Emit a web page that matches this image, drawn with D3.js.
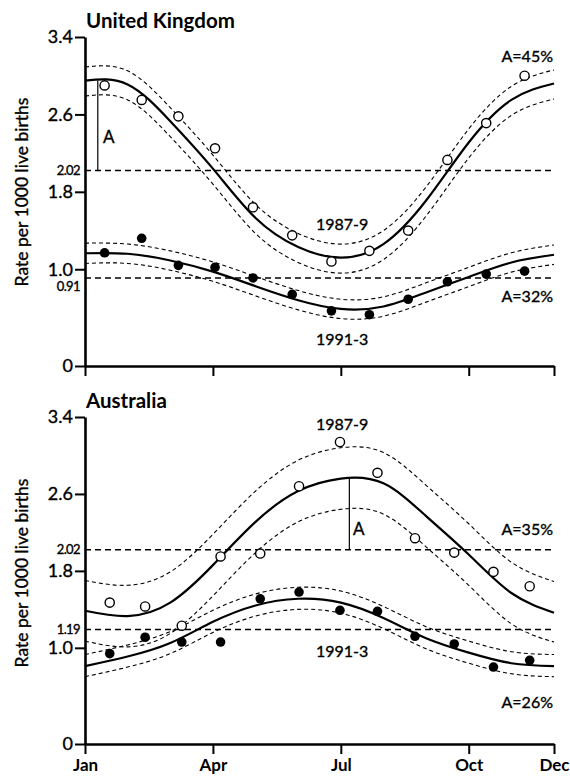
<!DOCTYPE html>
<html>
<head>
<meta charset="utf-8">
<script src="https://cdn.jsdelivr.net/npm/d3@7"></script>
<style>
body { margin: 0; background: #fff; }
text { font-family: Lato, "DejaVu Sans", sans-serif; fill: #000; }
.heavy { stroke: #000; stroke-width: 0.35; }
</style>
</head>
<body>
<script>
// Data

var w = 570;
var h = 776;

var monthTicks = [0, 3, 6, 9, 11];
var monthLabels = ["Jan", "Apr", "Jul", "Oct", "Dec"];
var rateTicks = [0, 1.0, 1.8, 2.6, 3.4];
var rateTickLabels = ["0", "1.0", "1.8", "2.6", "3.4"];

// month positions of the fitted curves (Jan = 0 ... Dec = 11)
var curveMonths = [0, 1, 2, 3, 4, 5, 6, 7, 8, 9, 10, 11];

// United Kingdom
var ukMonths = [0.46, 1.33, 2.19, 3.05, 3.94, 4.86, 5.78, 6.67, 7.58, 8.5, 9.41, 10.31];
var ukObs8789 = [2.9, 2.75, 2.58, 2.25, 1.64, 1.35, 1.08, 1.19, 1.4, 2.13, 2.51, 3.0];
var ukObs9193 = [1.17, 1.32, 1.04, 1.02, 0.91, 0.74, 0.57, 0.53, 0.69, 0.87, 0.95, 0.98];
var ukFit8789 = [2.95, 2.91, 2.53, 2.04, 1.53, 1.23, 1.12, 1.26, 1.71, 2.31, 2.75, 2.92];
var ukHigh8789 = [3.09, 3.05, 2.67, 2.18, 1.67, 1.37, 1.26, 1.4, 1.85, 2.45, 2.89, 3.06];
var ukLow8789 = [2.79, 2.75, 2.37, 1.88, 1.37, 1.07, 0.96, 1.1, 1.55, 2.15, 2.59, 2.76];
var ukFit9193 = [1.165, 1.16, 1.09, 0.975, 0.825, 0.68, 0.59, 0.615, 0.76, 0.92, 1.07, 1.15];
var ukHigh9193 = [1.27, 1.26, 1.19, 1.075, 0.925, 0.78, 0.69, 0.715, 0.86, 1.02, 1.17, 1.25];
var ukLow9193 = [1.06, 1.06, 0.99, 0.875, 0.725, 0.58, 0.49, 0.515, 0.66, 0.82, 0.97, 1.05];
var ukMeans = [2.02, 0.91];

// Australia
var auMonths = [0.58, 1.41, 2.27, 3.18, 4.11, 5.02, 5.98, 6.86, 7.74, 8.66, 9.58, 10.43];
var auObs8789 = [1.47, 1.43, 1.23, 1.95, 1.98, 2.68, 3.14, 2.82, 2.14, 1.99, 1.79, 1.64];
var auObs9193 = [0.94, 1.11, 1.06, 1.06, 1.51, 1.58, 1.39, 1.38, 1.12, 1.04, 0.8, 0.87];
var auFit8789 = [1.385, 1.33, 1.47, 1.86, 2.31, 2.63, 2.76, 2.71, 2.37, 1.97, 1.57, 1.365];
var auHigh8789 = [1.7, 1.65, 1.79, 2.18, 2.63, 2.95, 3.08, 3.03, 2.69, 2.29, 1.89, 1.69];
var auLow8789 = [1.07, 1.01, 1.15, 1.54, 1.99, 2.31, 2.44, 2.39, 2.05, 1.65, 1.25, 1.06];
var auFit9193 = [0.81, 0.91, 1.05, 1.27, 1.44, 1.51, 1.47, 1.31, 1.1, 0.95, 0.84, 0.81];
var auHigh9193 = [0.93, 1.03, 1.17, 1.39, 1.56, 1.63, 1.59, 1.43, 1.22, 1.07, 0.96, 0.93];
var auLow9193 = [0.7, 0.8, 0.94, 1.16, 1.33, 1.4, 1.36, 1.2, 0.99, 0.84, 0.73, 0.7];
var auMeans = [2.02, 1.19];

/*
-----SVG-----
*/
var svg = d3.select("body")
  .append("svg")
  .attr("width", w)
  .attr("height", h);

var x = d3.scaleLinear().domain([0, 11]).range([85, 554]);

var panels = [
  {
    title: "United Kingdom", top: 37, bottom: 366, titleY: 28, titleMid: 192,
    months: ukMonths, open: ukObs8789, closed: ukObs9193,
    fits: [ukFit8789, ukFit9193], highs: [ukHigh8789, ukHigh9193], lows: [ukLow8789, ukLow9193],
    means: ukMeans, meanDy: [0, 9],
    aMonth: 0.3, aTop: 2.95, aLabel: [103, 143],
    labels: [
      { t: "A=45%", x: 553, y: 62, anchor: "end" },
      { t: "1987-9", x: 316, y: 230, anchor: "start" },
      { t: "1991-3", x: 316, y: 345, anchor: "start" },
      { t: "A=32%", x: 553, y: 302, anchor: "end" }
    ],
    showMonths: false
  },
  {
    title: "Australia", top: 417, bottom: 744, titleY: 408, titleMid: 573,
    months: auMonths, open: auObs8789, closed: auObs9193,
    fits: [auFit8789, auFit9193], highs: [auHigh8789, auHigh9193], lows: [auLow8789, auLow9193],
    means: auMeans, meanDy: [0, 0],
    aMonth: 6.2, aTop: 2.76, aLabel: [353, 535],
    labels: [
      { t: "1987-9", x: 316, y: 430, anchor: "start" },
      { t: "A=35%", x: 553, y: 535, anchor: "end" },
      { t: "1991-3", x: 316, y: 657, anchor: "start" },
      { t: "A=26%", x: 553, y: 708, anchor: "end" }
    ],
    showMonths: true
  }
];

panels.forEach(function(p) {
  var y = d3.scaleLinear().domain([0, 3.4]).range([p.bottom, p.top]);
  var g = svg.append("g");

  var line = d3.line()
    .x(function(d) { return x(d[0]); })
    .y(function(d) { return y(d[1]); })
    .curve(d3.curveNatural);

  // mean levels
  g.selectAll(".mean")
    .data(p.means)
    .enter()
    .append("line")
    .attr("x1", x(0)).attr("x2", x(11))
    .attr("y1", function(d) { return y(d); })
    .attr("y2", function(d) { return y(d); })
    .attr("stroke", "#000")
    .attr("stroke-width", 1.4)
    .attr("stroke-dasharray", "6,4");

  g.selectAll(".meanlab")
    .data(p.means)
    .enter()
    .append("text")
    .attr("class", "heavy")
    .attr("x", 80)
    .attr("y", function(d, i) { return y(d) + p.meanDy[i]; })
    .attr("dy", "0.35em")
    .attr("text-anchor", "end")
    .attr("font-size", 13)
    .attr("letter-spacing", -0.6)
    .text(function(d) { return d.toFixed(2); });

  // confidence bands
  p.highs.concat(p.lows).forEach(function(s) {
    g.append("path")
      .datum(curveMonths.map(function(m, i) { return [m, s[i]]; }))
      .attr("d", line)
      .attr("fill", "none")
      .attr("stroke", "#000")
      .attr("stroke-width", 1.1)
      .attr("stroke-dasharray", "4,3");
  });

  // fitted curves
  p.fits.forEach(function(s) {
    g.append("path")
      .datum(curveMonths.map(function(m, i) { return [m, s[i]]; }))
      .attr("d", line)
      .attr("fill", "none")
      .attr("stroke", "#000")
      .attr("stroke-width", 2.2);
  });

  // amplitude marker
  g.append("line")
    .attr("x1", x(p.aMonth)).attr("x2", x(p.aMonth))
    .attr("y1", y(p.aTop)).attr("y2", y(p.means[0]))
    .attr("stroke", "#000")
    .attr("stroke-width", 1.2);
  g.append("text")
    .attr("class", "heavy")
    .attr("x", p.aLabel[0]).attr("y", p.aLabel[1])
    .attr("font-size", 17)
    .text("A");

  // observed points
  g.selectAll(".closed")
    .data(p.closed)
    .enter()
    .append("circle")
    .attr("cx", function(d, i) { return x(p.months[i]); })
    .attr("cy", function(d) { return y(d); })
    .attr("r", 4.8)
    .attr("fill", "#000");

  g.selectAll(".open")
    .data(p.open)
    .enter()
    .append("circle")
    .attr("cx", function(d, i) { return x(p.months[i]); })
    .attr("cy", function(d) { return y(d); })
    .attr("r", 4.6)
    .attr("fill", "#fff")
    .attr("stroke", "#000")
    .attr("stroke-width", 1.4);

  // axes
  var yAxis = g.append("g")
    .attr("transform", "translate(" + x(0) + ",0)")
    .call(d3.axisLeft(y).tickValues(rateTicks)
      .tickFormat(function(d, i) { return rateTickLabels[i]; })
      .tickSize(10).tickSizeOuter(0).tickPadding(2));
  yAxis.select(".domain").attr("stroke-width", 2.6);
  yAxis.selectAll(".tick line").attr("stroke-width", 2);
  yAxis.selectAll(".tick text")
    .attr("class", "heavy")
    .attr("font-family", "Lato, 'DejaVu Sans', sans-serif")
    .attr("font-size", 18)
    .attr("fill", "#000");

  var xAxis = g.append("g")
    .attr("transform", "translate(0," + p.bottom + ")")
    .call(d3.axisBottom(x).tickValues(monthTicks)
      .tickFormat(function(d, i) { return p.showMonths ? monthLabels[i] : ""; })
      .tickSize(10).tickSizeOuter(0).tickPadding(5));
  xAxis.select(".domain").attr("stroke-width", 2.6);
  xAxis.selectAll(".tick line").attr("stroke-width", 2);
  xAxis.selectAll(".tick text")
    .attr("font-family", "Lato, 'DejaVu Sans', sans-serif")
    .attr("font-size", 17)
    .attr("font-weight", "bold")
    .attr("fill", "#000");

  // y title
  g.append("text")
    .attr("class", "heavy")
    .attr("transform", "translate(28," + p.titleMid + ") rotate(-90)")
    .attr("text-anchor", "middle")
    .attr("font-size", 17.5)
    .text("Rate per 1000 live births");

  // panel title
  g.append("text")
    .attr("x", 86).attr("y", p.titleY)
    .attr("font-size", 20.5)
    .attr("font-weight", "bold")
    .text(p.title);

  g.selectAll(".lab")
    .data(p.labels)
    .enter()
    .append("text")
    .attr("class", "heavy")
    .attr("x", function(d) { return d.x; })
    .attr("y", function(d) { return d.y; })
    .attr("text-anchor", function(d) { return d.anchor; })
    .attr("font-size", 16)
    .text(function(d) { return d.t; });
});
</script>
</body>
</html>
